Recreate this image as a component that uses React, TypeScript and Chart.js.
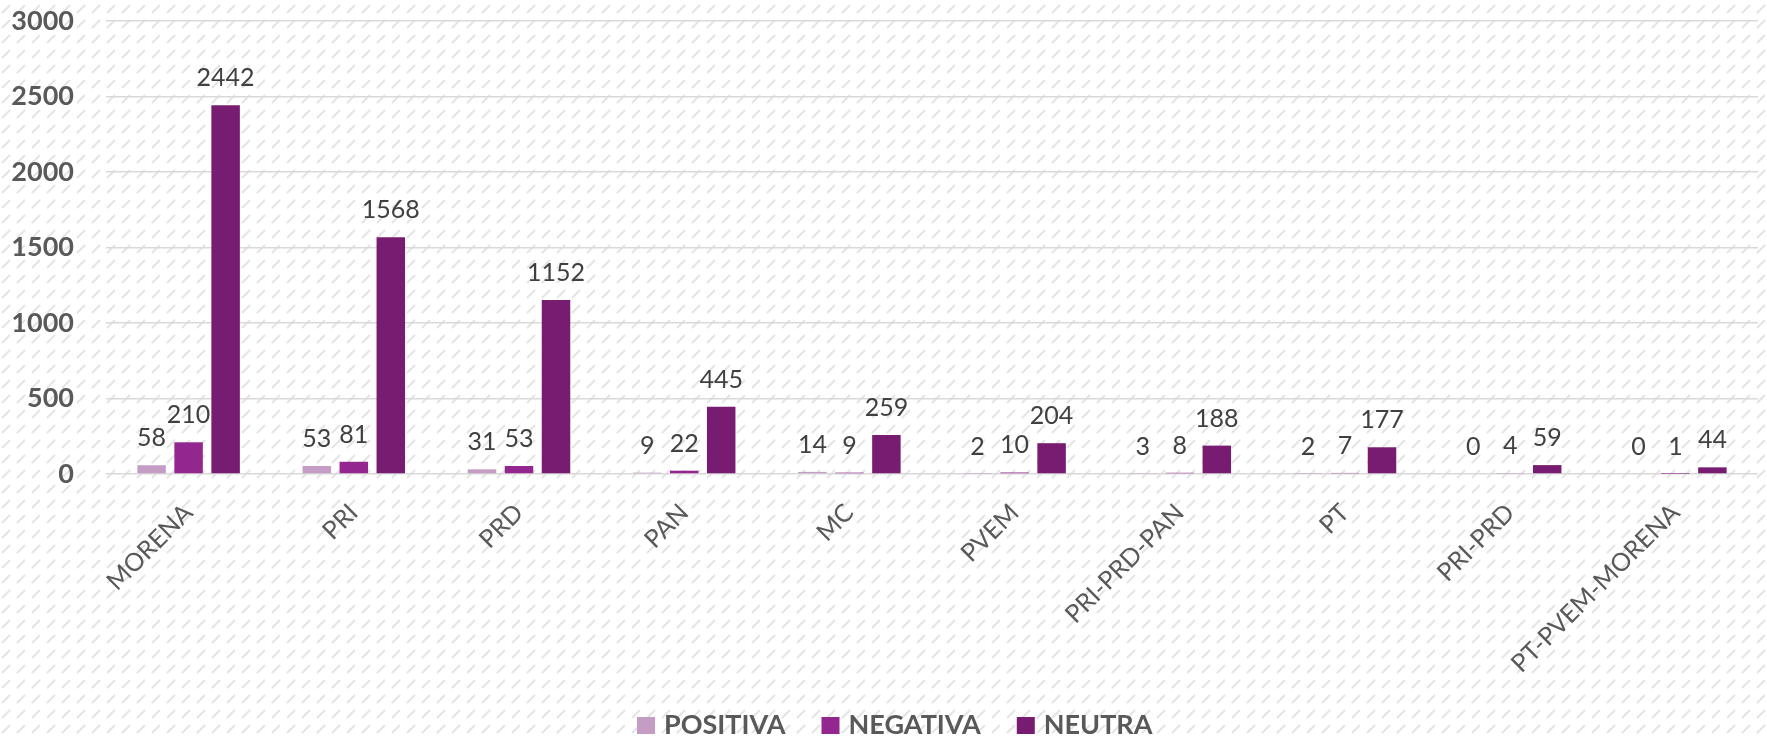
import React, { useEffect, useRef } from "react";
import { Chart, registerables } from "chart.js";

Chart.register(...registerables);

const CATEGORIES = ["MORENA", "PRI", "PRD", "PAN", "MC", "PVEM", "PRI-PRD-PAN", "PT", "PRI-PRD", "PT-PVEM-MORENA"];
const POSITIVA = [58, 53, 31, 9, 14, 2, 3, 2, 0, 0];
const NEGATIVA = [210, 81, 53, 22, 9, 10, 8, 7, 4, 1];
const NEUTRA = [2442, 1568, 1152, 445, 259, 204, 188, 177, 59, 44];
const SERIES_NAMES = ["POSITIVA", "NEGATIVA", "NEUTRA"];
const SERIES_COLORS = ["#C49CC4", "#93268F", "#781C71"];
const Y_MAX = 3000;
const Y_STEP = 500;

function makePattern(ctx: CanvasRenderingContext2D) {
  const s = 15;
  const tile = document.createElement("canvas");
  tile.width = s;
  tile.height = s;
  const t = tile.getContext("2d")!;
  t.fillStyle = "#ffffff";
  t.fillRect(0, 0, s, s);
  t.strokeStyle = "#e4e4e4";
  t.lineWidth = 2;
  t.lineCap = "round";
  t.beginPath();
  t.moveTo(2.5, 12.5);
  t.lineTo(9.5, 5.5);
  t.stroke();
  return ctx.createPattern(tile, "repeat");
}

const hatchPlugin = {
  id: "hatchBg",
  beforeDraw(chart: any) {
    const { ctx, width, height } = chart;
    ctx.save();
    const p = makePattern(ctx);
    ctx.fillStyle = p || "#fff";
    ctx.fillRect(0, 0, width, height);
    ctx.restore();
  },
};

const valueLabelPlugin = {
  id: "valueLabels",
  afterDatasetsDraw(chart: any) {
    const { ctx } = chart;
    ctx.save();
    ctx.font = "25px Lato";
    ctx.fillStyle = "#404040";
    ctx.textAlign = "center";
    ctx.textBaseline = "alphabetic";
    chart.data.datasets.forEach((ds: any, i: number) => {
      const meta = chart.getDatasetMeta(i);
      meta.data.forEach((el: any, j: number) => {
        ctx.fillText(String(ds.data[j]), el.x, el.y - 19);
      });
    });
    ctx.restore();
  },
};

const customLegendPlugin = {
  id: "customLegend",
  afterDraw(chart: any) {
    const { ctx } = chart;
    ctx.save();
    ctx.font = "bold 27px Lato";
    const boxW = 18;
    const boxH = 17;
    const gapBoxText = 9;
    const gapItems = 36;
    const widths = SERIES_NAMES.map((n) => ctx.measureText(n).width);
    let x = 637;
    const yMid = 725.5;
    SERIES_NAMES.forEach((name, i) => {
      ctx.fillStyle = SERIES_COLORS[i];
      ctx.fillRect(x, yMid - boxH / 2, boxW, boxH);
      x += boxW + gapBoxText;
      ctx.fillStyle = "#595959";
      ctx.textAlign = "left";
      ctx.textBaseline = "middle";
      ctx.fillText(name, x, yMid);
      x += widths[i] + gapItems;
    });
    ctx.restore();
  },
};

export default function App() {
  const ref = useRef<HTMLCanvasElement | null>(null);
  useEffect(() => {
    document.body.style.margin = "0";
    const canvas = ref.current!;
    const chart = new Chart(canvas, {
      type: "bar",
      data: {
        labels: CATEGORIES,
        datasets: [POSITIVA, NEGATIVA, NEUTRA].map((d, i) => ({
          label: SERIES_NAMES[i],
          data: d,
          backgroundColor: SERIES_COLORS[i],
          borderWidth: 0,
          categoryPercentage: 0.672,
          barPercentage: 0.77,
        })),
      },
      options: {
        responsive: false,
        animation: false,
        devicePixelRatio: 1,
        layout: { padding: { top: 21, right: 9, bottom: 0, left: 0 } },
        plugins: {
          legend: { display: false },
          tooltip: { enabled: false },
        },
        scales: {
          x: {
            grid: { display: false, drawTicks: false },
            border: { display: false },
            ticks: {
              font: { family: "Lato", size: 25 },
              color: "#595959",
              minRotation: 45,
              maxRotation: 45,
              padding: 24,
              autoSkip: false,
            },
            afterFit(scale: any) {
              scale.height = 265;
            },
          },
          y: {
            min: 0,
            max: Y_MAX,
            grid: {
              color: "#d9d9d9",
              lineWidth: 1.5,
              drawTicks: true,
              tickLength: 32,
              tickColor: "rgba(0,0,0,0)",
            },
            border: { display: false },
            ticks: {
              stepSize: Y_STEP,
              font: { family: "Lato", size: 27, weight: "bold" },
              color: "#595959",
              padding: 0,
              callback: (v: any) => String(v),
            },
            afterFit(scale: any) {
              scale.width = 106;
            },
          },
        },
      },
      plugins: [hatchPlugin, valueLabelPlugin, customLegendPlugin],
    });
    return () => chart.destroy();
  }, []);
  return (
    <div style={{ width: 1767, height: 739 }}>
      <canvas ref={ref} width={1767} height={739} style={{ display: "block" }} />
    </div>
  );
}
